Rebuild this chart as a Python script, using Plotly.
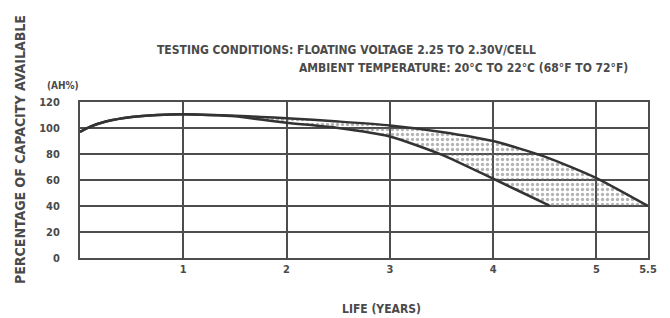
import plotly.graph_objects as go

# Life (years) sample points
years = [0, 0.1, 0.25, 0.5, 0.75, 1.0, 1.25, 1.5, 1.75, 2.0, 2.5, 3.0, 3.5, 4.0, 4.5, 5.0, 5.5]
upper_capacity = [97, 101, 105, 108.5, 110, 110.5, 110, 109.5, 108.5, 107.5, 105, 102, 97, 90, 78, 61.5, 40]

years_lower = [0, 0.1, 0.25, 0.5, 0.75, 1.0, 1.25, 1.5, 1.75, 2.0, 2.5, 3.0, 3.5, 4.0, 4.5, 4.55]
lower_capacity = [97, 101, 105, 108.5, 110, 110.5, 110, 109, 106.5, 104, 100, 93.5, 79.5, 61, 42, 40]

x_ticks = [1, 2, 3, 4, 5, 5.5]
x_tick_labels = ["1", "2", "3", "4", "5", "5.5"]
y_ticks = [0, 20, 40, 60, 80, 100, 120]
y_tick_labels = ["0", "20", "40", "60", "80", "100", "120"]

FONT = "DejaVu Sans Condensed, Liberation Sans Narrow, sans-serif"
TXT = "#4a4a4a"
GRID = "#4d4d4d"
CURVE = "#333333"

# page body has an 8px default margin; size the figure so it fits the 670x318 window
W, H = 662, 310
PL, PR, PT, PB = 72, 22, 94, 60
PW = W - PL - PR           # 568
PH = H - PT - PB           # 156
OX, OY = 8 + PL, 8 + PT    # plot-area origin in window pixels


def px(xw):
    return (xw - OX) / PW


def py(yw):
    return (OY + PH - yw) / PH


band_x = years + [years_lower[-1]] + years_lower[::-1]
band_y = upper_capacity + [lower_capacity[-1]] + lower_capacity[::-1]

fig = go.Figure()
fig.add_trace(go.Scatter(
    x=band_x, y=band_y, fill="toself", mode="lines",
    line=dict(width=0, color="rgba(0,0,0,0)", shape="spline", smoothing=0.6),
    fillcolor="rgba(255,255,255,0)",
    fillpattern=dict(shape=".", fgcolor="#6a6a6a", bgcolor="rgba(255,255,255,0)", size=5, solidity=0.35),
    hoverinfo="skip", showlegend=False,
))
fig.add_trace(go.Scatter(x=years, y=upper_capacity, mode="lines",
                         line=dict(color=CURVE, width=2.5, shape="spline", smoothing=0.6),
                         showlegend=False))
fig.add_trace(go.Scatter(x=years_lower, y=lower_capacity, mode="lines",
                         line=dict(color=CURVE, width=2.5, shape="spline", smoothing=0.6),
                         showlegend=False))

bold = lambda s: dict(family=FONT, size=s, color=TXT, weight="bold")

fig.update_layout(
    width=W, height=H,
    margin=dict(l=PL, r=PR, t=PT, b=PB, autoexpand=False),
    paper_bgcolor="white", plot_bgcolor="white",
    font=dict(family=FONT, color=TXT, size=11),
    xaxis=dict(range=[0, 5.5], tickvals=x_ticks, ticktext=x_tick_labels,
               showgrid=True, gridcolor=GRID, gridwidth=2,
               showline=True, linecolor=GRID, linewidth=2, mirror=True,
               zeroline=False, ticks="", ticklen=0,
               tickfont=bold(11)),
    yaxis=dict(range=[0, 120], tickvals=y_ticks, ticktext=y_tick_labels,
               showgrid=True, gridcolor=GRID, gridwidth=2,
               showline=True, linecolor=GRID, linewidth=2, mirror=True,
               zeroline=False, ticks="", ticklen=0, ticklabelstandoff=16,
               tickfont=bold(11)),
    annotations=[
        dict(text="TESTING CONDITIONS: FLOATING VOLTAGE 2.25 TO 2.30V/CELL",
             xref="paper", yref="paper", x=px(155), y=py(50),
             xanchor="left", yanchor="middle", showarrow=False, font=bold(12)),
        dict(text="AMBIENT TEMPERATURE: 20°C TO 22°C (68°F TO 72°F)",
             xref="paper", yref="paper", x=px(297), y=py(68),
             xanchor="left", yanchor="middle", showarrow=False, font=bold(12)),
        dict(text="(AH%)", xref="paper", yref="paper", x=px(63), y=py(85),
             xanchor="center", yanchor="middle", showarrow=False, font=bold(10)),
        dict(text="PERCENTAGE OF CAPACITY AVAILABLE", xref="paper", yref="paper",
             x=px(20), y=py(150), textangle=-90,
             xanchor="center", yanchor="middle", showarrow=False, font=bold(14)),
        dict(text="LIFE (YEARS)", xref="paper", yref="paper", x=px(381), y=py(309),
             xanchor="center", yanchor="middle", showarrow=False, font=bold(12)),
    ],
)

fig.write_html("out.html")
